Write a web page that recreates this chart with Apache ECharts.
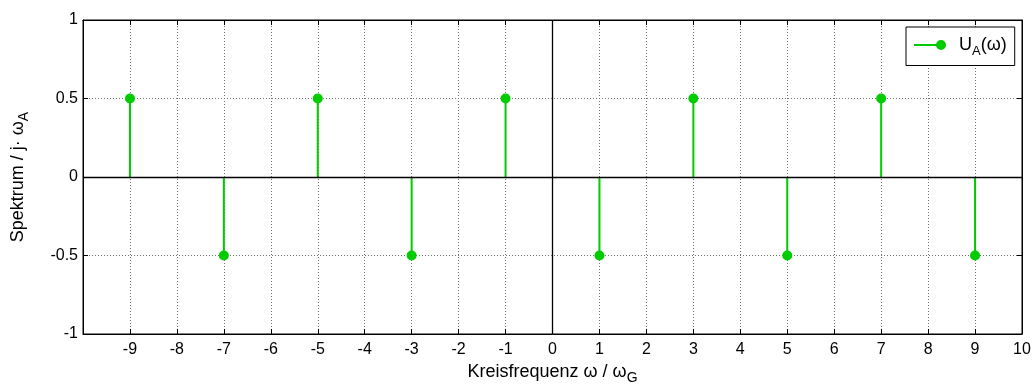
<!DOCTYPE html>
<html>
<head>
<meta charset="utf-8">
<script src="https://cdn.jsdelivr.net/npm/echarts@6/dist/echarts.min.js"></script>
<style>
  html, body { margin: 0; padding: 0; background: #fff; }
  #chart { width: 1033px; height: 387px; }
</style>
</head>
<body>
<div id="chart"></div>
<script>
// Spectrum lines: angular frequency (in units of omega_G) and spectral value
const frequencies = [-9, -7, -5, -3, -1, 1, 3, 5, 7, 9];
const spectrum = [0.5, -0.5, 0.5, -0.5, 0.5, -0.5, 0.5, -0.5, 0.5, -0.5];
const yTicks = [-1, -0.5, 0, 0.5, 1];

const GREEN = '#00cc00';
const FONT = 'Liberation Sans, Arial, sans-serif';
const seriesName = 'U_A(ω)';

const stemData = frequencies.map((f, i) => [f, spectrum[i]]);

const chart = echarts.init(document.getElementById('chart'), null, { renderer: 'canvas' });

const tickStyle = { show: true, inside: true, length: 5, lineStyle: { color: '#000', width: 1 } };
const gridLine = { show: true, lineStyle: { color: '#707070', type: [1, 2], width: 1 } };

chart.setOption({
  animation: false,
  backgroundColor: '#fff',
  grid: {
    left: 83, right: 11, top: 20, bottom: 53,
    containLabel: false, outerBoundsMode: 'none',
    show: true, borderColor: '#000', borderWidth: 1, backgroundColor: '#fff'
  },
  legend: {
    data: [seriesName],
    left: 906, top: 27,
    padding: [9, 8, 8, 8],
    backgroundColor: '#fff',
    borderColor: '#000', borderWidth: 1, borderRadius: 0,
    itemWidth: 32, itemHeight: 10, itemGap: 0,
    // stem-plot key: short line ending in a filled dot
    icon: 'path://M0,4H27V6H0Z M22,5A5,5 0 1,1 32,5A5,5 0 1,1 22,5Z',
    itemStyle: { color: GREEN },
    formatter: () => '{u|U}{s|A}{n|(ω)}',
    textStyle: {
      rich: {
        u: { fontFamily: FONT, fontSize: 18, color: '#000', padding: [0, 0, 0, 8] },
        n: { fontFamily: FONT, fontSize: 18, color: '#000' },
        s: { fontFamily: FONT, fontSize: 13, color: '#000', padding: [12, 0, 0, 0] }
      }
    }
  },
  xAxis: [{
    type: 'value', min: -10, max: 10, interval: 1,
    position: 'bottom',
    axisLine: { show: true, onZero: false, lineStyle: { color: '#000' } },
    axisTick: tickStyle,
    splitLine: gridLine,
    axisLabel: {
      color: '#000', fontFamily: FONT, fontSize: 16, margin: 8,
      formatter: v => (v === -10 ? '' : String(v))
    },
    name: '{n|Kreisfrequenz ω / ω}{s|G}',
    nameLocation: 'middle', nameGap: 22,
    nameTextStyle: {
      rich: {
        n: { fontFamily: FONT, fontSize: 18, color: '#000' },
        s: { fontFamily: FONT, fontSize: 14, color: '#000', padding: [12, 0, 0, 0] }
      }
    }
  }, {
    type: 'value', min: -10, max: 10, interval: 1,
    position: 'top',
    axisLine: { show: true, onZero: false, lineStyle: { color: '#000' } },
    axisTick: tickStyle,
    splitLine: { show: false },
    axisLabel: { show: false }
  }],
  yAxis: [{
    type: 'value', min: yTicks[0], max: yTicks[yTicks.length - 1], interval: 0.5,
    position: 'left',
    axisLine: { show: true, onZero: false, lineStyle: { color: '#000' } },
    axisTick: tickStyle,
    splitLine: gridLine,
    axisLabel: { color: '#000', fontFamily: FONT, fontSize: 16, margin: 5 },
    name: '{n|Spektrum / j· ω}{s|A}',
    nameLocation: 'middle', nameGap: 52, nameRotate: 90,
    nameTextStyle: {
      rich: {
        n: { fontFamily: FONT, fontSize: 18, color: '#000' },
        s: { fontFamily: FONT, fontSize: 14, color: '#000', padding: [12, 0, 0, 0] }
      }
    }
  }, {
    type: 'value', min: -1, max: 1, interval: 0.5,
    position: 'right',
    axisLine: { show: true, onZero: false, lineStyle: { color: '#000' } },
    axisTick: tickStyle,
    splitLine: { show: false },
    axisLabel: { show: false }
  }],
  series: [{
    // zero axes drawn through the origin
    type: 'line', data: [], silent: true, z: 1,
    markLine: {
      silent: true, symbol: 'none', label: { show: false },
      lineStyle: { color: '#000', type: 'solid', width: 1.3 },
      data: [{ yAxis: 0 }, { xAxis: 0 }]
    }
  }, {
    name: seriesName,
    type: 'custom',
    z: 3,
    itemStyle: { color: GREEN },
    data: stemData,
    renderItem: (params, api) => {
      const x = api.value(0), y = api.value(1);
      const base = api.coord([x, 0]);
      const tip = api.coord([x, y]);
      return {
        type: 'group',
        children: [
          { type: 'line', shape: { x1: base[0], y1: base[1], x2: tip[0], y2: tip[1] }, style: { stroke: GREEN, lineWidth: 2 } },
          { type: 'circle', shape: { cx: tip[0], cy: tip[1], r: 5 }, style: { fill: GREEN } }
        ]
      };
    }
  }]
});
</script>
</body>
</html>
